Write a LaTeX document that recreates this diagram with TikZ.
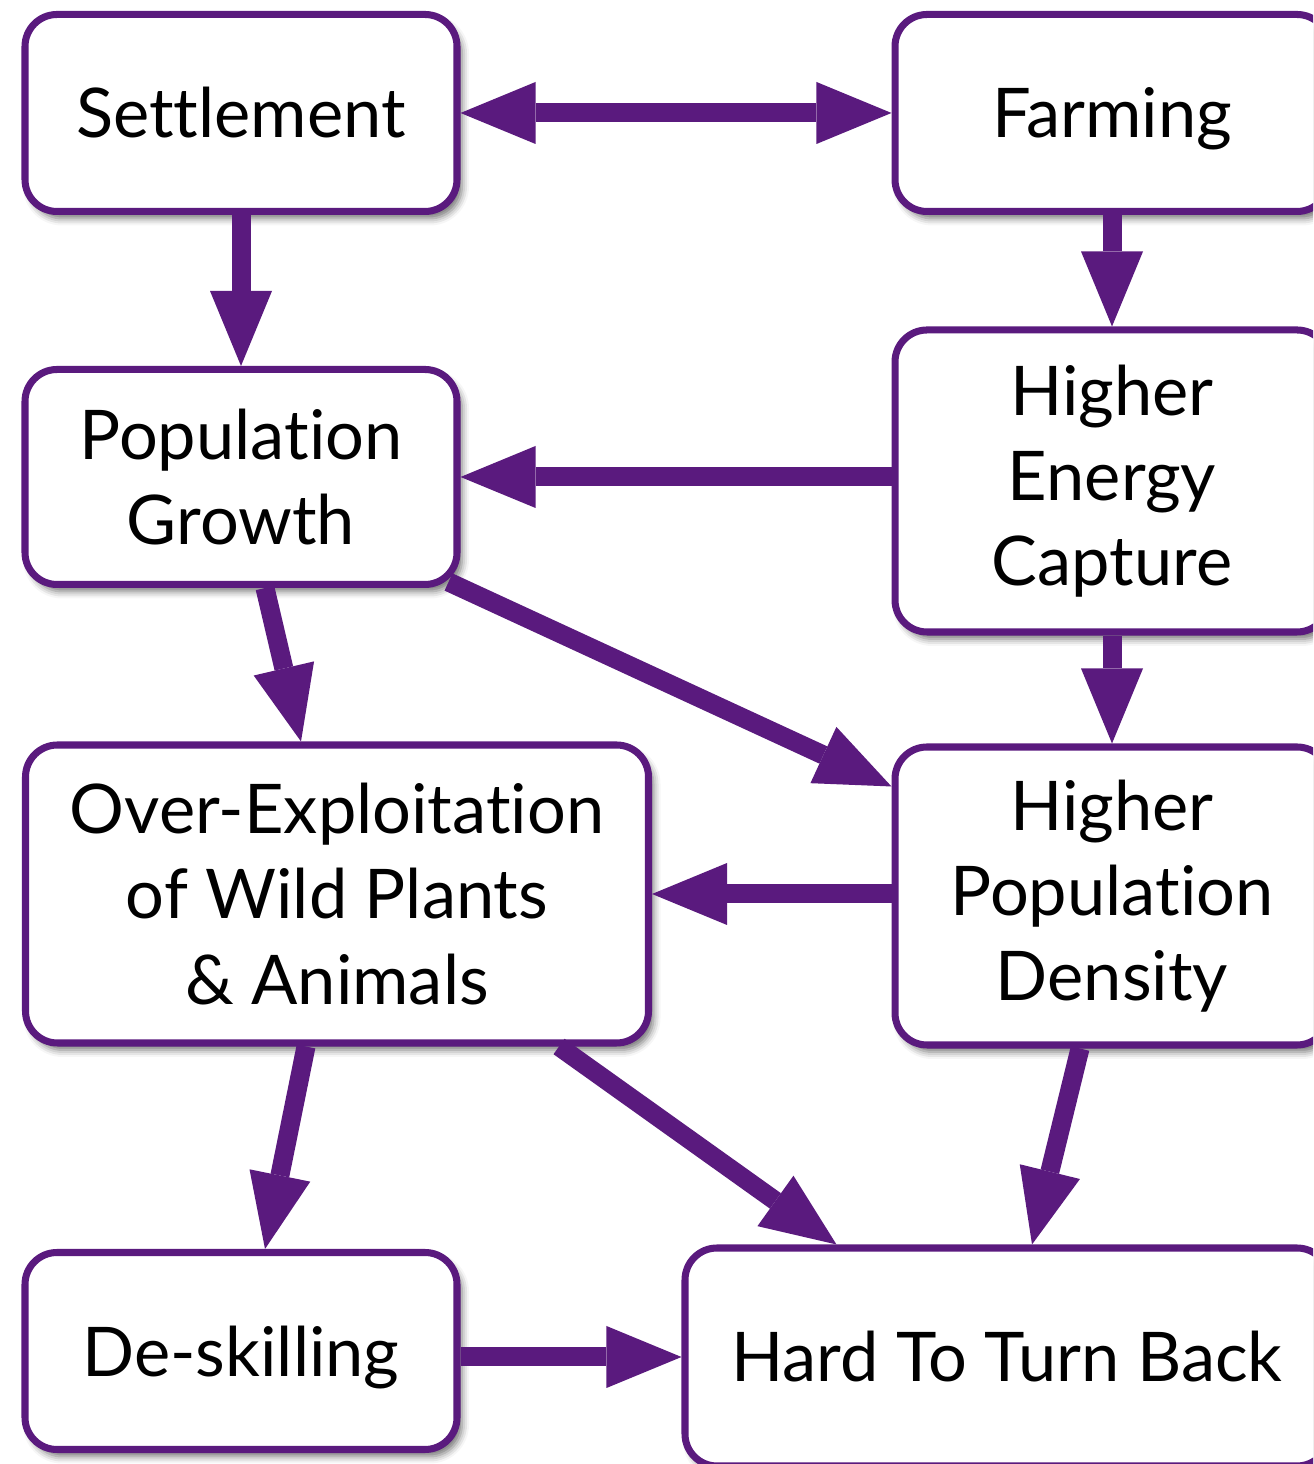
\documentclass[tikz,border=0pt]{standalone}
\usepackage{fontspec}
\setmainfont{Lato}[Ligatures=NoCommon]
\usepackage{xcolor}
\usepackage{tikz}
\usetikzlibrary{arrows.meta,shadows.blur}
\definecolor{HTPurple}{HTML}{5A1A7E}

\begin{document}
\begin{tikzpicture}[x=1cm,y=1cm,
  stagebox/.style={draw=HTPurple,line width=2pt,fill=white,rounded corners=0.32cm,
    align=center,inner sep=0pt,font=\fontsize{19.5}{24.2}\selectfont,
    blur shadow={shadow xshift=0.05cm,shadow yshift=-0.07cm,shadow blur radius=0.07cm,shadow opacity=55}},
  flowtip/.tip={Triangle[length=0.75cm,width=0.62cm,line width=0pt]},
  flowarrow/.style={draw=HTPurple,line width=0.19cm,-flowtip}]
\clip (0,0) rectangle (13.13,14.64);
% stages
\node[stagebox,minimum width=4.32cm,minimum height=1.97cm] (settle) at (2.41,13.51) {Settlement};
\node[stagebox,minimum width=4.34cm,minimum height=1.97cm,text depth=0pt] (farm) at (11.12,13.51) {Farming};
\node[stagebox,minimum width=4.32cm,minimum height=2.15cm] (popgrowth) at (2.41,9.87) {Population\\Growth};
\node[stagebox,minimum width=4.34cm,minimum height=3.02cm] (energy) at (11.12,9.83) {Higher\\Energy\\Capture};
\node[stagebox,minimum width=6.23cm,minimum height=2.98cm] (overexp) at (3.37,5.70) {Over-Exploitation\\of Wild Plants\\\& Animals};
\node[stagebox,minimum width=4.34cm,minimum height=2.98cm] (density) at (11.12,5.68) {Higher\\Population\\Density};
\node[stagebox,minimum width=4.32cm,minimum height=1.97cm,text depth=0pt] (deskill) at (2.41,1.13) {De-skilling};
\node[stagebox,minimum width=6.44cm,minimum height=2.18cm] (hard) at (10.07,1.07) {Hard To Turn Back};
% links
\draw[flowarrow,flowtip-flowtip] (settle.east) -- (farm.west);
\draw[flowarrow] (settle.south) -- (popgrowth.north);
\draw[flowarrow] (farm.south) -- (energy.north);
\draw[flowarrow] (energy.west |- popgrowth.east) -- (popgrowth.east);
\draw[flowarrow] ([xshift=0.24cm]popgrowth.south) -- ([xshift=-0.36cm]overexp.north);
\draw[flowarrow] ([xshift=-0.12cm,yshift=0.06cm]popgrowth.south east) -- ([yshift=-0.43cm]density.north west);
\draw[flowarrow] (energy.south) -- (density.north);
\draw[flowarrow] (density.west |- overexp.east) -- (overexp.east);
\draw[flowarrow] ([xshift=-0.31cm]overexp.south) -- ([xshift=0.24cm]deskill.north);
\draw[flowarrow] ([xshift=-0.93cm]overexp.south east) -- ([xshift=1.55cm]hard.north west);
\draw[flowarrow] ([xshift=-0.32cm]density.south) -- ([xshift=0.25cm]hard.north);
\draw[flowarrow] (deskill.east |- hard.west) -- (hard.west);
\end{tikzpicture}
\end{document}
